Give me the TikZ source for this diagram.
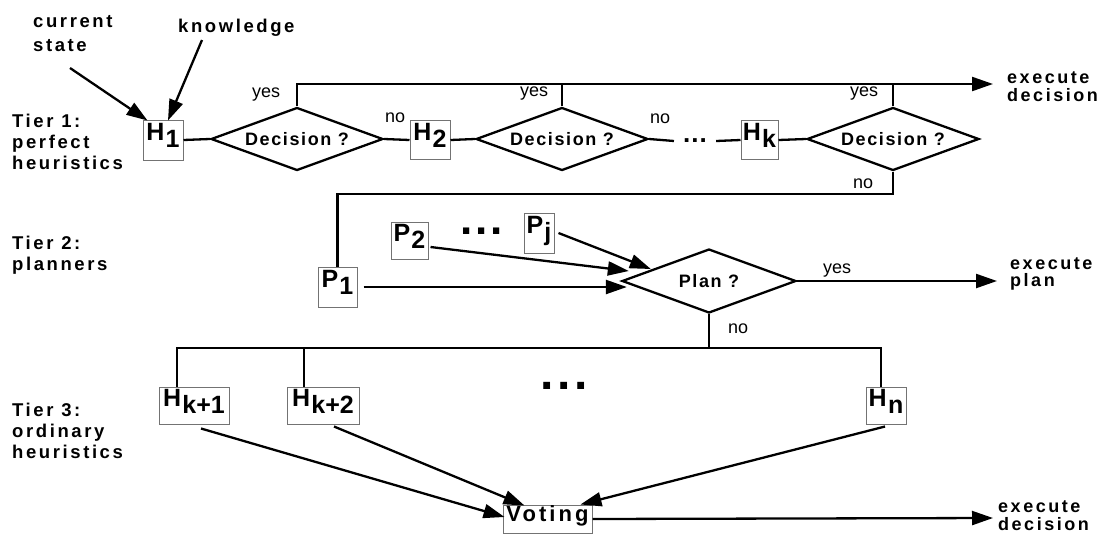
\documentclass[tikz,border=0pt]{standalone}
\usepackage{fontspec}
\setmainfont{Liberation Sans}
\newfontfamily\lsfont[LetterSpace=14]{Liberation Sans}
\newfontfamily\dsfont[LetterSpace=9]{Liberation Sans}
\usetikzlibrary{shapes.geometric,arrows.meta,calc}
\newcommand\labsize{\lsfont\bfseries\fontsize{18.5}{21}\selectfont}
\newcommand\exsize{\lsfont\bfseries\fontsize{18}{18}\selectfont}
\newcommand\decsize{\dsfont\bfseries\fontsize{18}{20}\selectfont}
\newcommand\boxsize{\bfseries\fontsize{25}{27}\selectfont}
\newcommand\votsize{\lsfont\bfseries\fontsize{22}{24}\selectfont}
\newcommand\smsize{\fontsize{18}{20}\selectfont}
\newcommand\Hs[2]{#1\kern1.2pt\raisebox{-7pt}{#2}}
\newcommand\dotz[1]{.\kern#1.\kern#1.}
\begin{document}
\begin{tikzpicture}[x=1pt,y=-1pt,
  conn/.style={line width=2.3pt},
  arr/.style={conn,-{Triangle[length=21pt,width=14pt]}},
  hbox/.style={draw=black!55,line width=1pt,inner xsep=1.5pt,inner ysep=1pt,text height=18pt,text depth=17pt,font=\boxsize},
  vbox/.style={draw=black!55,line width=1pt,inner xsep=1pt,inner ysep=0.5pt,text height=16pt,text depth=11pt,font=\votsize},
  dia/.style={diamond,draw,line width=2.3pt,inner sep=0pt,aspect=2.7,minimum width=172pt,minimum height=63pt,font=\decsize},
  lab/.style={font=\labsize,align=left,anchor=north west,inner sep=0pt},
  exl/.style={font=\exsize,align=left,anchor=north west,inner sep=0pt},
  sm/.style={font=\smsize,inner sep=0pt,anchor=base west},
  dots/.style={inner sep=0pt}]
\useasboundingbox (0,0) rectangle (1100,536);

% side labels
\node[lab] (cs) at (33,15) {current\\[3.5pt]state};
\node[lab] (kn) at (178,19) {knowledge};
\node[lab] (t1) at (12,114) {Tier 1:\\perfect\\heuristics};
\node[lab] (t2) at (12,236) {Tier 2:\\planners};
\node[lab] (t3) at (12,403) {Tier 3:\\ordinary\\heuristics};
\node[exl] (ex1t) at (1007,72) {execute\\decision};
\node[exl] (ex2t) at (1010,258) {execute\\[-1pt]plan};
\node[exl] (ex3t) at (998,501) {execute\\decision};

% tier 1
\node[hbox,minimum width=40pt,minimum height=40pt] (H1) at (163,140) {\Hs{H}{1}};
\node[dia] (D1) at (297,139) {Decision ?};
\node[hbox,minimum width=40pt,minimum height=39pt] (H2) at (430,140) {\Hs{H}{2}};
\node[dia] (D2) at (562,139) {Decision ?};
\node[dots,inner xsep=9pt,font=\bfseries\fontsize{26}{26}\selectfont] (dots1) at (695,141) {\dotz{1pt}};
\node[hbox,minimum width=37pt,minimum height=39pt] (Hk) at (759.5,140) {\Hs{H}{k}};
\node[dia] (D3) at (893,139) {Decision ?};

\node[sm] (y1) at (252,97) {yes};
\node[sm] (n1) at (385,122) {no};
\node[sm] (y2) at (520,96) {yes};
\node[sm] (n2) at (650,123) {no};
\node[sm] (y3) at (850,96) {yes};
\node[sm] (n3) at (853,188) {no};

\coordinate (csA) at (70,68);
\coordinate (knA) at (202,40);
\draw[arr] (csA) -- ($(H1.north west)+(5,1)$);
\draw[arr] (knA) -- ($(H1.north)+(5,1)$);

\draw[conn] (H1.east) -- (D1.west);
\draw[conn] (D1.east) -- (H2.west);
\draw[conn] (H2.east) -- (D2.west);
\draw[conn] (D2.east) -- (dots1.west);
\draw[conn] (dots1.east) -- (Hk.west);
\draw[conn] (Hk.east) -- (D3.west);

\coordinate (ex1) at (993,84);
\draw[arr] (D1.north) |- (ex1);
\draw[conn] (D2.north) -- (D2.north |- ex1);
\draw[conn] (D3.north) -- (D3.north |- ex1);

% tier 2
\node[hbox,minimum width=39pt,minimum height=40pt] (P1) at (337.5,287) {\Hs{P}{1}};
\node[hbox,minimum width=37pt,minimum height=37pt] (P2) at (409.5,240.5) {\Hs{P}{2}};
\node[hbox,minimum width=30pt,minimum height=40pt] (Pj) at (539,233) {\Hs{P}{j}};
\node[dots,font=\bfseries\fontsize{44}{44}\selectfont] (dots2) at (482,231) {\dotz{2.8pt}};
\node[dia,minimum width=174pt,minimum height=64pt] (plan) at (709,281) {Plan ?};

\coordinate (r2) at (0,194);
\draw[conn] (D3.south) -- (D3.south |- r2) -| (P1.north);

\draw[arr,shorten <=6pt] (P1.east) -- ($(plan.west)+(6,6)$);
\draw[arr] ($(P2.east)+(2,6.5)$) -- ($(plan.west)+(8,-10)$);
\draw[arr] ($(Pj.east)+(4,0)$) -- ($(plan.west)+(30,-12)$);

\coordinate (ex2) at (997,281);
\draw[arr] (plan.east) -- (ex2);
\node[sm] (y4) at (823,273) {yes};
\node[sm] (n4) at (728,333) {no};

% tier 3
\node[hbox,minimum width=70pt,minimum height=37pt] (Hk1) at (194,405.5) {\Hs{H}{k+1}};
\node[hbox,minimum width=72pt,minimum height=37pt] (Hk2) at (323,405.5) {\Hs{H}{k+2}};
\node[hbox,minimum width=40pt,minimum height=37pt] (Hn) at (886,405.5) {\Hs{H}{n}};
\node[dots,font=\bfseries\fontsize{48}{48}\selectfont] (dots3) at (564,386) {\dotz{3.7pt}};

\coordinate (bL) at (177,348);
\coordinate (bM) at (304,348);
\coordinate (bR) at (881,348);
\draw[conn] (plan.south) -- (plan.south |- bL);
\draw[conn] (Hk1.north -| bL) -- (bL) -- (bR) -- (Hn.north -| bR);
\draw[conn] (bM) -- (bM |- Hk2.north);

\node[vbox,minimum width=89pt] (V) at (547.5,519) {Voting};
\draw[arr] ($(Hk1.south)+(7,4)$) -- ($(V.west)+(2,-2)$);
\draw[arr] ($(Hk2.south)+(11,2)$) -- ($(V.north west)+(22,1)$);
\draw[arr] ($(Hn.south)+(-1,2)$) -- ($(V.north east)+(-12,0)$);
\coordinate (ex3) at (993,518);
\draw[arr] (V.east) -- (ex3);
\end{tikzpicture}
\end{document}
